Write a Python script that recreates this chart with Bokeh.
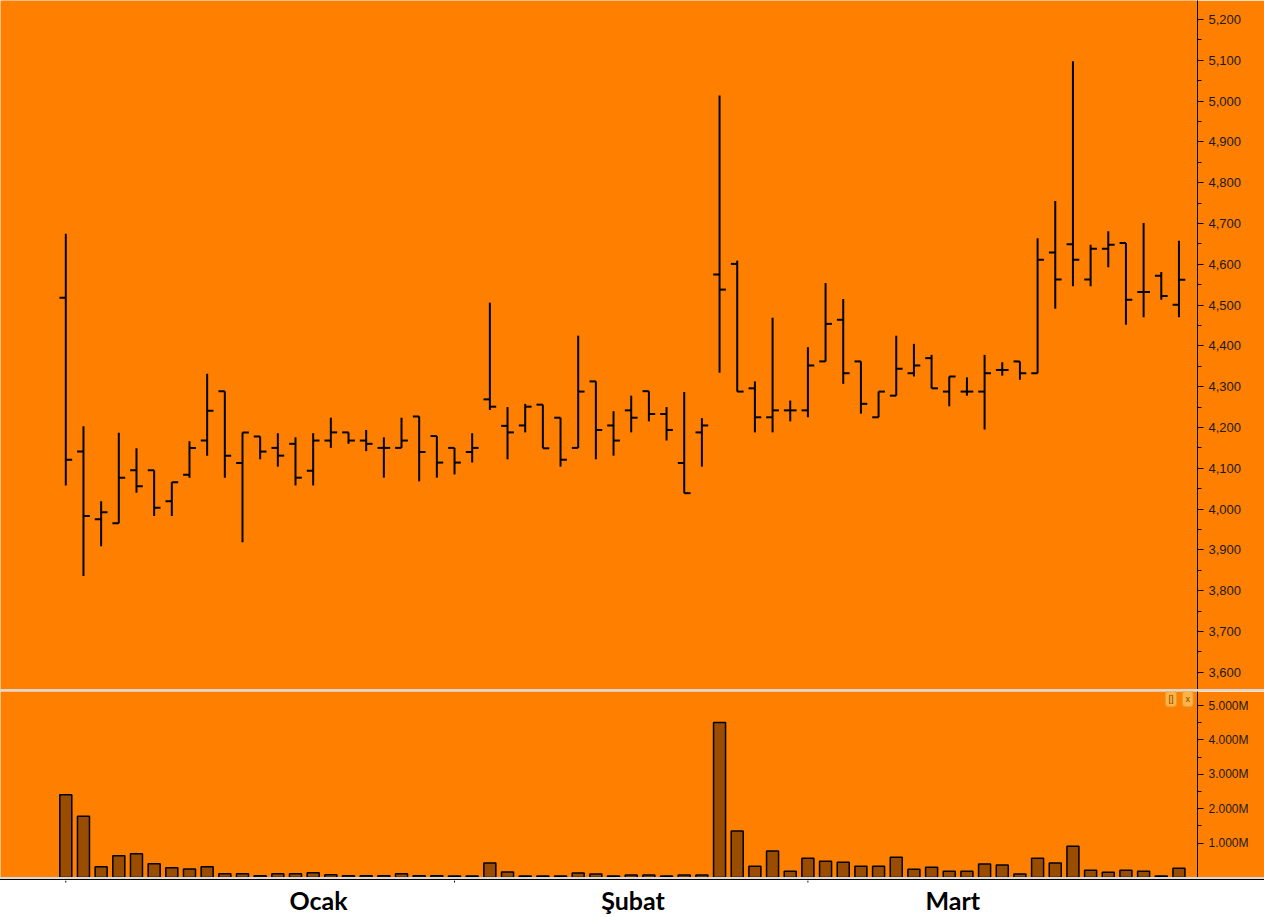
from bokeh.plotting import figure
from bokeh.models import (Range1d, SingleIntervalTicker, FixedTicker, NumeralTickFormatter,
                          PrintfTickFormatter, ColumnDataSource, Div, Label)
from bokeh.layouts import column
from bokeh.transform import dodge
from bokeh.core.properties import value
from bokeh.embed import file_html
from bokeh.resources import INLINE

# ---------------- data ----------------
day = list(range(1, 65))

opens = [4518, 4141, 3975, 3965, 4095, 4095, 4019, 4084, 4168, 4289,
         4113, 4178, 4150, 4160, 4094, 4168, 4188, 4168, 4150, 4150,
         4227, 4179, 4150, 4140, 4269, 4204, 4205, 4256, 4224, 4150,
         4313, 4205, 4242, 4289, 4233, 4113, 4188, 4575, 4601, 4296,
         4225, 4242, 4242, 4362, 4464, 4362, 4225, 4278, 4333, 4370,
         4288, 4288, 4288, 4341, 4362, 4333, 4629, 4649, 4563, 4638,
         4652, 4532, 4572, 4501]

highs = [4675, 4203, 4019, 4187, 4149, 4095, 4066, 4166, 4332, 4289,
         4188, 4178, 4186, 4176, 4186, 4224, 4188, 4194, 4176, 4224,
         4227, 4179, 4150, 4186, 4506, 4250, 4258, 4256, 4224, 4425,
         4313, 4240, 4278, 4289, 4250, 4287, 4223, 5014, 4609, 4313,
         4469, 4266, 4397, 4554, 4515, 4362, 4288, 4425, 4405, 4378,
         4325, 4323, 4378, 4360, 4362, 4664, 4755, 5098, 4648, 4681,
         4652, 4701, 4581, 4658]

lows = [4058, 3836, 3909, 3965, 4040, 3983, 3983, 4077, 4131, 4077,
        3919, 4122, 4104, 4058, 4058, 4150, 4160, 4142, 4077, 4150,
        4068, 4077, 4085, 4114, 4243, 4122, 4188, 4149, 4104, 4150,
        4122, 4131, 4188, 4215, 4168, 4039, 4104, 4334, 4288, 4188,
        4188, 4215, 4225, 4362, 4307, 4234, 4225, 4278, 4325, 4296,
        4252, 4278, 4195, 4327, 4317, 4333, 4491, 4546, 4546, 4593,
        4452, 4470, 4513, 4470]

closes = [4121, 3983, 3992, 4077, 4056, 4003, 4066, 4150, 4241, 4131,
          4188, 4141, 4131, 4077, 4168, 4188, 4168, 4160, 4150, 4168,
          4140, 4114, 4114, 4150, 4251, 4188, 4251, 4149, 4121, 4288,
          4194, 4168, 4224, 4233, 4194, 4039, 4205, 4538, 4288, 4225,
          4242, 4242, 4352, 4454, 4333, 4258, 4288, 4344, 4352, 4296,
          4325, 4288, 4333, 4341, 4333, 4611, 4563, 4611, 4638, 4648,
          4513, 4532, 4522, 4562]

# volume in millions
volumes = [2.41, 1.78, 0.31, 0.63, 0.69, 0.40, 0.28, 0.25, 0.31, 0.11,
           0.11, 0.05, 0.11, 0.11, 0.14, 0.08, 0.05, 0.05, 0.05, 0.11,
           0.05, 0.05, 0.04, 0.04, 0.42, 0.16, 0.04, 0.04, 0.04, 0.13,
           0.10, 0.04, 0.07, 0.07, 0.04, 0.07, 0.07, 4.51, 1.35, 0.33,
           0.77, 0.18, 0.56, 0.47, 0.44, 0.33, 0.33, 0.59, 0.24, 0.30,
           0.18, 0.18, 0.39, 0.36, 0.10, 0.56, 0.42, 0.91, 0.21, 0.15,
           0.21, 0.18, 0.04, 0.27]

month_labels = ["Ocak", "Şubat", "Mart"]
month_label_pos = [15.3, 33.1, 51.2]
month_starts = [1, 23, 43]

price_ticks_step = 100
volume_ticks = [1, 2, 3, 4, 5]
volume_minor_ticks = [1.5, 2.5, 3.5, 4.5]

# ---------------- style ----------------
ORANGE = "#FF8000"
BROWN = "#9A4C00"
SEP = "#D9D9D9"
W = 1264
RB = 67
AXIS_FONT = "Liberation Sans"
AXIS_COLOR = "#1a1a1a"

src = ColumnDataSource(dict(x=day, open=opens, high=highs, low=lows,
                            close=closes, vol=volumes))

xr = Range1d(-2.696, 65.05)


def style_axis(ax, size):
    ax.axis_line_color = "black"
    ax.axis_line_width = 1
    ax.major_tick_line_color = "black"
    ax.minor_tick_line_color = "black"
    ax.major_tick_out = 6
    ax.major_tick_in = 0
    ax.minor_tick_out = 4
    ax.minor_tick_in = 0
    ax.major_label_text_font = AXIS_FONT
    ax.major_label_text_font_size = size
    ax.major_label_text_color = AXIS_COLOR
    ax.major_label_standoff = 5


# ---------------- price panel ----------------
p = figure(width=W, height=689, x_range=xr, y_range=Range1d(3557.8, 5246.6),
           output_backend="svg", toolbar_location=None,
           x_axis_location=None, y_axis_location="right",
           min_border_left=0, min_border_right=RB, min_border_top=0, min_border_bottom=0,
           background_fill_color=ORANGE, border_fill_color=ORANGE, outline_line_color=None)
p.grid.visible = False
p.segment(x0="x", y0="high", x1="x", y1="low", source=src, line_color="black", line_width=2)
p.segment(x0=dodge("x", -0.36), y0="open", x1="x", y1="open", source=src,
          line_color="black", line_width=2)
p.segment(x0="x", y0="close", x1=dodge("x", 0.36), y1="close", source=src,
          line_color="black", line_width=2)
pax = p.yaxis[0]
pax.ticker = SingleIntervalTicker(interval=price_ticks_step, num_minor_ticks=2)
pax.formatter = NumeralTickFormatter(format="0,0")
style_axis(pax, "13px")

# ---------------- volume panel ----------------
v = figure(width=W, height=186, x_range=xr, y_range=Range1d(0, 5.41),
           output_backend="svg", toolbar_location=None,
           x_axis_location=None, y_axis_location="right",
           min_border_left=0, min_border_right=RB, min_border_top=0, min_border_bottom=0,
           background_fill_color=ORANGE, border_fill_color=ORANGE, outline_line_color=None)
v.grid.visible = False
v.vbar(x="x", top="vol", bottom=0, width=0.68, source=src,
       fill_color=BROWN, line_color="black", line_width=1.5)
vax = v.yaxis[0]
vax.ticker = FixedTicker(ticks=volume_ticks, minor_ticks=volume_minor_ticks)
vax.formatter = PrintfTickFormatter(format="%.3fM")
style_axis(vax, "12px")

for dx, txt in ((1.5, "[]"), (0.55, "x")):
    v.add_layout(Label(x=xr.end - dx, y=5.2, text=txt, text_align="center",
                       text_baseline="middle", text_font=AXIS_FONT, text_font_size="9px",
                       text_color="#7a4a00", background_fill_color="#FFB347",
                       border_line_color="#E69A30", padding=3, border_radius=3))

# ---------------- month label strip ----------------
lf = figure(width=W, height=37, x_range=xr, y_range=Range1d(0, 37),
            output_backend="svg", toolbar_location=None,
            x_axis_location=None, y_axis_location=None,
            min_border_left=0, min_border_right=RB, min_border_top=0, min_border_bottom=0,
            background_fill_color="white", border_fill_color="white", outline_line_color=None)
lf.grid.visible = False
lf.segment(x0=month_starts, y0=[37] * 3, x1=month_starts, y1=[35] * 3,
           line_color="black", line_width=1)
lsrc = ColumnDataSource(dict(x=month_label_pos, y=[17.5] * len(month_labels), t=month_labels))
lf.text(x="x", y="y", text="t", source=lsrc, text_font=value("Lato"),
        text_font_style="bold", text_font_size="25px", text_align="center",
        text_baseline="middle", text_color="black")

sep1 = Div(text="", width=W, height=2, margin=0, styles={"background-color": SEP})
sep2 = Div(text="", width=W, height=2, margin=0, styles={"background-color": SEP})
sep3 = Div(text="", width=W, height=1, margin=0, styles={"background-color": "black"})

layout = column(p, sep1, v, sep2, sep3, lf, spacing=0)

open("out.html", "w").write(file_html(layout, INLINE))
